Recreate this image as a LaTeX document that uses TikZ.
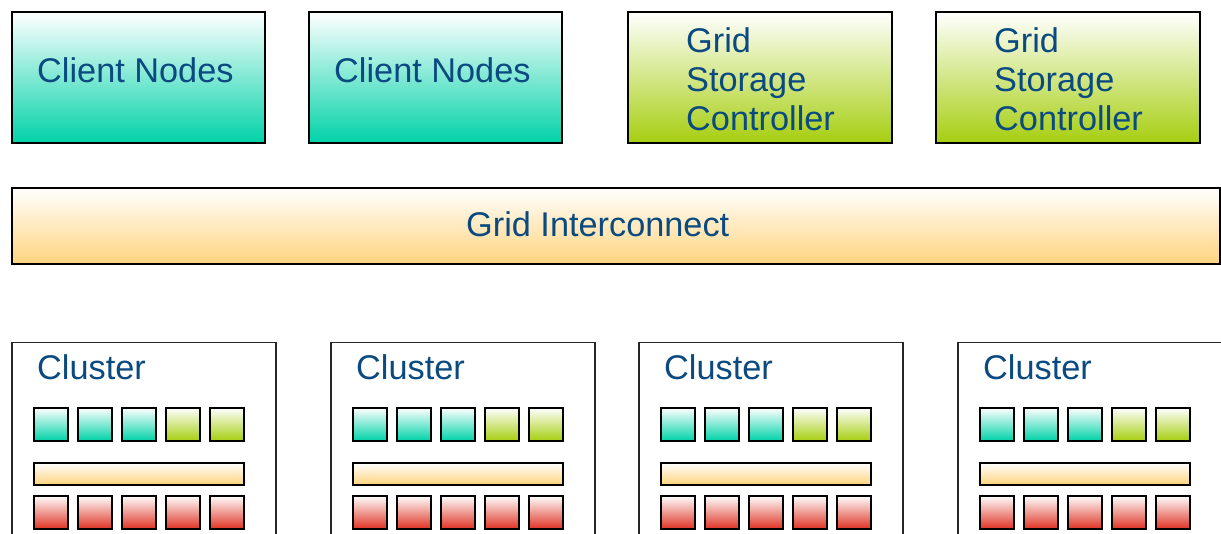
\documentclass[tikz,border=0pt]{standalone}
\usepackage{fontspec}
\setmainfont{Liberation Sans}
\definecolor{txtblue}{HTML}{0B4A80}
\definecolor{cteal}{HTML}{00D2A8}
\definecolor{cgreen}{HTML}{A6CE10}
\definecolor{corange}{HTML}{FFD47E}
\definecolor{cred}{HTML}{DE3424}
\tikzset{
  x=1pt, y=-1pt,
  box/.style={draw=black, line width=2pt, inner sep=0pt, anchor=north west},
  grad/.style={top color=white, middle color=#1!28!white, bottom color=#1},
  bigtext/.style={text=txtblue, inner sep=0pt, font=\fontsize{34.3}{39}\selectfont},
  clusterbox/.style={draw=black!85, line width=1.5pt, inner sep=0pt, anchor=north west,
    minimum width=264pt, minimum height=220pt},
  chip/.style={box, line width=1.6pt, minimum width=34pt, minimum height=33pt, grad=#1},
  busbar/.style={box, line width=1.6pt, minimum width=210pt, minimum height=22pt, grad=corange},
}
\begin{document}
\begin{tikzpicture}
\clip (0,0) rectangle (1221,534);
\fill[white] (0,0) rectangle (1221,534);

% client nodes
\node[box, grad=cteal, minimum width=253pt, minimum height=131pt] (cn1) at (11,11) {};
\node[box, grad=cteal, minimum width=253pt, minimum height=131pt] (cn2) at (308,11) {};
\node[bigtext, anchor=base west] (cn1t) at (37,83) {Client Nodes};
\node[bigtext, anchor=base west] (cn2t) at (334,83) {Client Nodes};

% storage controllers
\node[box, grad=cgreen, minimum width=264pt, minimum height=131pt] (gsc1) at (627,11) {};
\node[box, grad=cgreen, minimum width=264pt, minimum height=131pt] (gsc2) at (935,11) {};
\node[bigtext, anchor=north west, align=left] (gsc1t) at (686,27) {Grid\\Storage\\Controller};
\node[bigtext, anchor=north west, align=left] (gsc2t) at (994,27) {Grid\\Storage\\Controller};

% interconnect
\node[box, grad=corange, minimum width=1208pt, minimum height=76pt] (gi) at (11,187) {};
\node[bigtext, anchor=base west] (git) at (466,237) {Grid Interconnect};

% clusters
\foreach \x [count=\i] in {11,330,638,957} {
  \node[clusterbox] (cl\i) at (\x,342) {};
  \node[bigtext, anchor=base west] (cl\i t) at (\x+26,380) {Cluster};
  \foreach \k [count=\j] in {cteal,cteal,cteal,cgreen,cgreen} {
    \node[chip=\k] (cl\i u\j) at (\x+22+44*\j-44,407) {};
    \node[chip=cred] (cl\i d\j) at (\x+22+44*\j-44,495) {};
  }
  \node[busbar] (cl\i bus) at (\x+22,462) {};
}
\end{tikzpicture}
\end{document}
